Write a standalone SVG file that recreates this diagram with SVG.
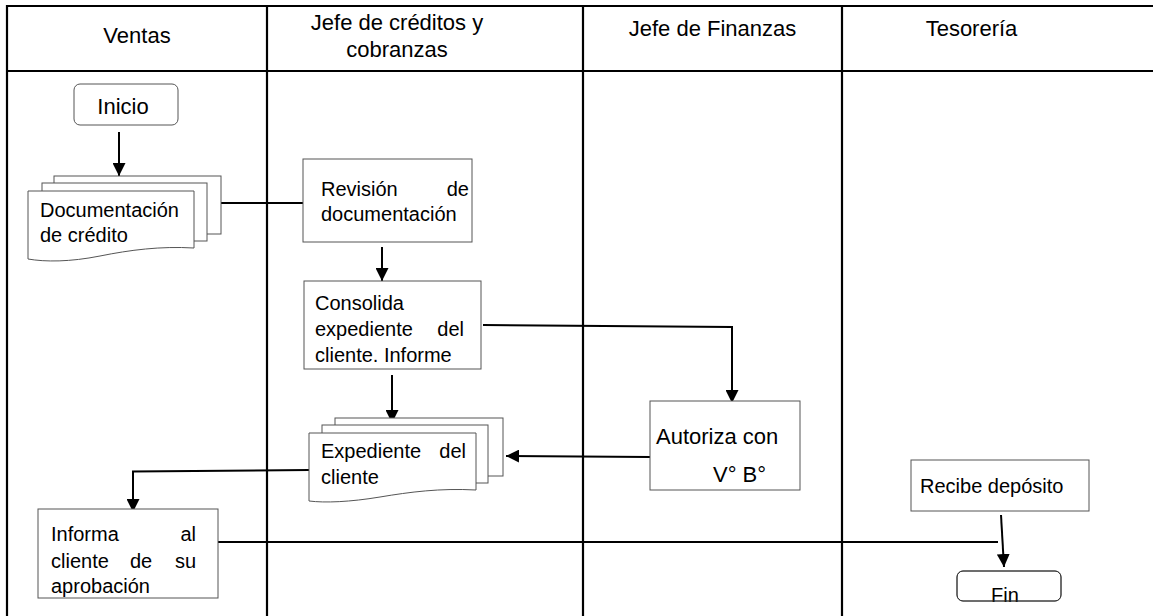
<svg xmlns="http://www.w3.org/2000/svg" width="1153" height="616" viewBox="0 0 1153 616">
<defs>
<style>
.t{font-family:"Liberation Sans",Arial,sans-serif;font-size:20px;fill:#000}
.h{font-family:"Liberation Sans",Arial,sans-serif;font-size:22px;fill:#000}
.b{fill:#fff;stroke:#555;stroke-width:1}
.bo{fill:none;stroke:#333;stroke-width:1}
.grid{stroke:#000;stroke-width:2.2;fill:none}
.c{stroke:#000;stroke-width:2;fill:none}
</style>
<marker id="ar" markerUnits="userSpaceOnUse" markerWidth="13" markerHeight="13" refX="13" refY="6.5" orient="auto">
<path d="M0,0 L13,6.5 L0,13 Z" fill="#000"/>
</marker>
</defs>
<rect width="1153" height="616" fill="#fff"/>
<g id="table">
<line class="grid" x1="6" y1="6" x2="1153" y2="6"/>
<line class="grid" x1="7" y1="71" x2="1153" y2="71"/>
<line class="grid" x1="7" y1="5" x2="7" y2="616"/>
<line class="grid" x1="267" y1="6" x2="267" y2="616"/>
<line class="grid" x1="583" y1="6" x2="583" y2="616"/>
<line class="grid" x1="842" y1="6" x2="842" y2="616"/>
<text class="h" x="137" y="43" text-anchor="middle">Ventas</text>
<text class="h" x="397" y="30" text-anchor="middle">Jefe de créditos y</text>
<text class="h" x="397" y="57" text-anchor="middle">cobranzas</text>
<text class="h" x="712.5" y="36" text-anchor="middle">Jefe de Finanzas</text>
<text class="h" x="971.5" y="36" text-anchor="middle">Tesorería</text>
</g>
<g id="connectors">
<line class="c" x1="119" y1="132" x2="119" y2="176" marker-end="url(#ar)"/>
<line class="c" x1="221" y1="203" x2="303" y2="203"/>
<line class="c" x1="382" y1="247" x2="382" y2="281" marker-end="url(#ar)"/>
<polyline class="c" points="483,325 732,327 732,403" marker-end="url(#ar)"/>
<line class="c" x1="392" y1="375" x2="392" y2="423" marker-end="url(#ar)"/>
<line class="c" x1="650" y1="457" x2="506" y2="456" marker-end="url(#ar)"/>
<polyline class="c" points="309,470 133,471.5 133,512" marker-end="url(#ar)"/>
<line class="c" x1="218" y1="542" x2="998" y2="542"/>
<line class="c" x1="1001" y1="515" x2="1004" y2="567" marker-end="url(#ar)"/>
</g>
<g id="inicio">
<rect class="b" x="74" y="84" width="104" height="41" rx="6"/>
<text class="h" x="123" y="114" text-anchor="middle">Inicio</text>
</g>
<g id="documentacion">
<rect class="b" x="54" y="176" width="167" height="58"/>
<rect class="b" x="42" y="183" width="165" height="58"/>
<path class="b" d="M28,191 H194 V248 C160,246 130,250 100,256 C70,262 45,262 28,259 Z"/>
<text class="t" x="40" y="217">Documentación</text>
<text class="t" x="40" y="242">de crédito</text>
</g>
<g id="revision">
<rect class="b" x="303" y="159" width="169" height="83"/>
<text class="t" x="321" y="196">Revisión</text>
<text class="t" x="469" y="196" text-anchor="end">de</text>
<text class="t" x="321" y="221">documentación</text>
</g>
<g id="consolida">
<rect class="b" x="304" y="281" width="177" height="88"/>
<text class="t" x="315" y="310">Consolida</text>
<text class="t" x="315" y="336">expediente</text>
<text class="t" x="464" y="336" text-anchor="end">del</text>
<text class="t" x="315" y="362">cliente. Informe</text>
</g>
<g id="expediente">
<rect class="b" x="335" y="418" width="168" height="58"/>
<rect class="b" x="322" y="425" width="166" height="58"/>
<path class="b" d="M309,433 H476 V490 C440,488 410,492 380,497 C350,502 325,503 309,501 Z"/>
<text class="t" x="321" y="458">Expediente</text>
<text class="t" x="466" y="458" text-anchor="end">del</text>
<text class="t" x="321" y="484">cliente</text>
</g>
<g id="autoriza">
<rect class="b" x="650" y="401" width="150" height="89"/>
<text class="h" x="656" y="444">Autoriza con</text>
<text class="h" x="713" y="482">V° B°</text>
</g>
<g id="informa">
<rect class="b" x="38" y="509" width="180" height="89"/>
<text class="t" x="51" y="541">Informa</text>
<text class="t" x="196" y="541" text-anchor="end">al</text>
<text class="t" x="51" y="568">cliente</text>
<text class="t" x="130" y="568">de</text>
<text class="t" x="196" y="568" text-anchor="end">su</text>
<text class="t" x="51" y="593">aprobación</text>
</g>
<g id="recibe">
<rect class="b" x="911" y="460" width="178" height="51"/>
<text class="t" x="920" y="493">Recibe depósito</text>
</g>
<g id="fin">
<rect class="b" x="957" y="571" width="104" height="30" rx="6"/>
<text class="t" x="1005" y="602" text-anchor="middle">Fin</text>
<rect class="bo" x="957" y="571" width="104" height="30" rx="6"/>
</g>
</svg>
